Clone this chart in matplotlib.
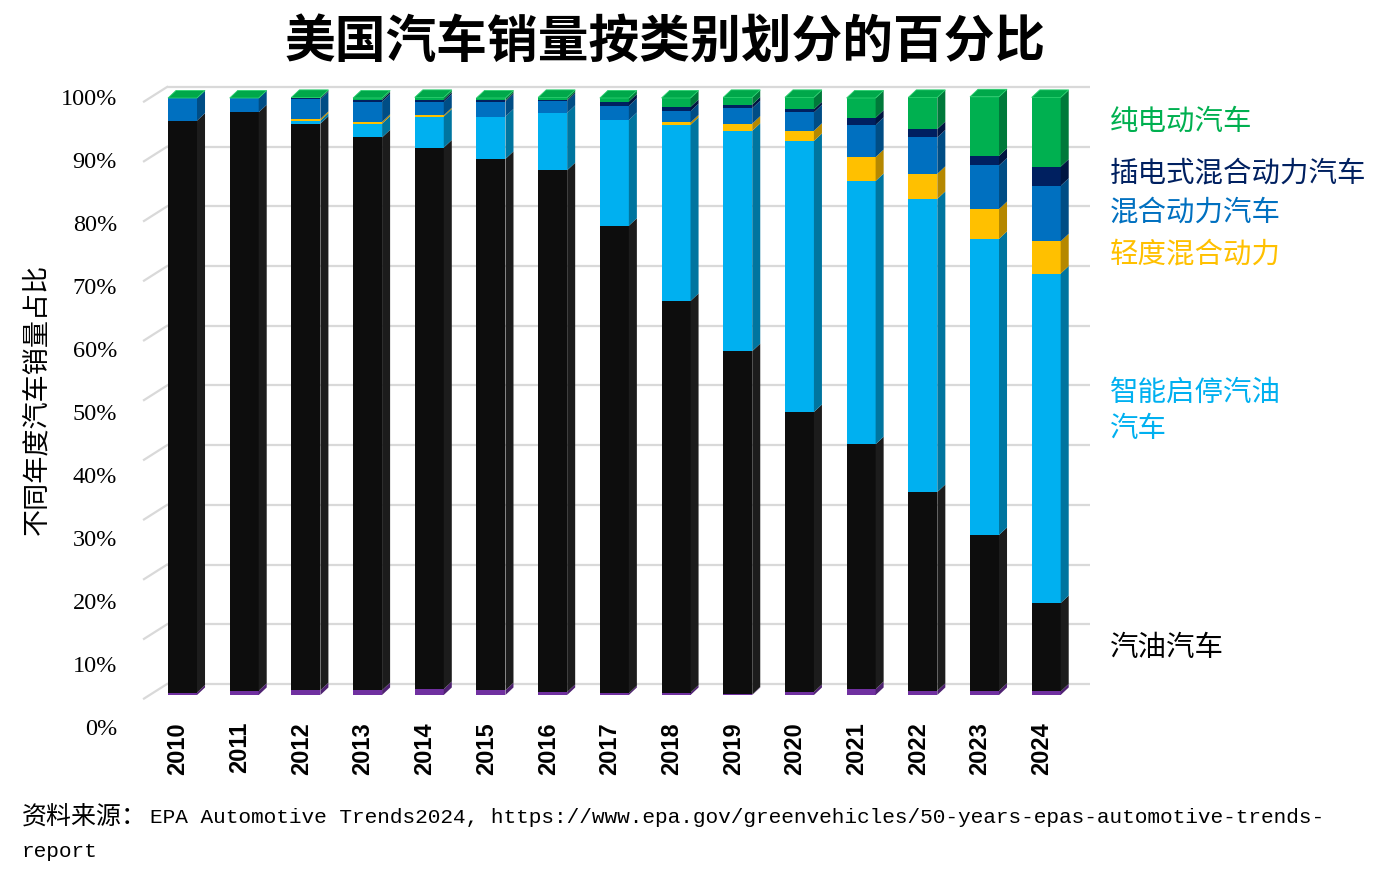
import matplotlib as mpl
mpl.use('Agg')
import matplotlib.pyplot as plt
import matplotlib.transforms as mtransforms
from matplotlib.patches import Polygon
import numpy as np

# 数据 (各年份销量占比 %, 从下往上堆叠)
years = ['2010', '2011', '2012', '2013', '2014', '2015', '2016', '2017',
         '2018', '2019', '2020', '2021', '2022', '2023', '2024']
diesel = [0.4, 0.7, 0.8, 0.8, 1.0, 0.8, 0.5, 0.3, 0.4, 0.1, 0.5, 1.0, 0.7, 0.7, 0.6]
gasoline = [95.8, 96.9, 94.9, 92.6, 90.7, 89.0, 87.4, 78.3, 65.6, 57.5, 46.9, 41.0, 33.3, 26.1, 14.8]
stop_start = [0.0, 0.0, 0.5, 2.3, 5.2, 7.1, 9.6, 17.7, 29.5, 36.9, 45.4, 44.1, 49.1, 49.6, 55.2]
mild_hybrid = [0.0, 0.0, 0.3, 0.3, 0.2, 0.0, 0.0, 0.0, 0.4, 1.2, 1.7, 4.0, 4.2, 5.0, 5.4]
hybrid = [3.8, 2.4, 3.3, 3.4, 2.3, 2.5, 2.0, 2.4, 1.9, 2.6, 3.1, 5.4, 6.1, 7.3, 9.3]
phev = [0.0, 0.0, 0.2, 0.3, 0.3, 0.2, 0.2, 0.7, 0.7, 0.6, 0.5, 1.2, 1.4, 1.6, 3.2]
bev = [0.0, 0.0, 0.1, 0.3, 0.4, 0.4, 0.4, 0.6, 1.5, 1.2, 2.0, 3.3, 5.3, 9.9, 11.6]

stack = [diesel, gasoline, stop_start, mild_hybrid, hybrid, phev, bev]
face_colors = ['#7030a0', '#0d0d0d', '#00b0f0', '#ffc000', '#0070c0', '#002060', '#00b050']
side_colors = ['#4f2272', '#1c1c1c', '#00759f', '#b58800', '#004d85', '#001541', '#00793a']
top_color = '#00a84a'

# 右侧图例文字
legend_labels = ['纯电动汽车', '插电式混合动力汽车', '混合动力汽车', '轻度混合动力', '智能启停汽油\n汽车', '汽油汽车']
legend_colors = ['#00b050', '#002060', '#0070c0', '#ffc000', '#00b0f0', '#000000']
legend_ypix = [122, 173, 212, 254, 411, 648]

W, H = 1373, 878
plt.rcParams['font.family'] = ['Noto Sans CJK SC', 'DejaVu Sans']

fig = plt.figure(figsize=(W / 100, H / 100), dpi=100)

# 坐标轴位置 (像素换算)
y_lo, y_hi = -5.3, 103
px_per_val = 5.97
ax_bottom = 696 - y_lo * px_per_val
ax_top = 696 - y_hi * px_per_val
ax = fig.add_axes([140 / W, (H - ax_bottom) / H, 950 / W, (ax_bottom - ax_top) / H])
ax.set_xlim(-0.689, 14.71)
ax.set_ylim(y_lo, y_hi)

x = np.arange(len(years))
bar_w = 0.47
dx, dy = 0.13, 1.26   # 立体效果的偏移

# 背景网格 (后墙 + 左侧斜线)
for v in np.arange(0, 101, 10):
    ax.plot([-0.25, 14.71], [v + 1.85, v + 1.85], color='#d9d9d9', lw=1.6, zorder=1,
            solid_capstyle='butt')
    ax.plot([-0.624, -0.25], [v - 0.6, v + 1.85], color='#d9d9d9', lw=1.6, zorder=1)

# 堆叠柱子 (正面 + 侧面)
bottom = np.zeros(len(years))
for vals, fc, sc in zip(stack, face_colors, side_colors):
    vals = np.array(vals)
    ax.bar(x, vals, bottom=bottom, width=bar_w, color=fc, linewidth=0, zorder=3)
    for i in range(len(x)):
        if vals[i] <= 0:
            continue
        xr = x[i] + bar_w / 2
        b = bottom[i]
        t = bottom[i] + vals[i]
        ax.add_patch(Polygon([(xr, b), (xr + dx, b + dy), (xr + dx, t + dy), (xr, t)],
                             closed=True, fc=sc, ec='none', zorder=3))
    bottom += vals

# 顶面
for i in range(len(x)):
    xl = x[i] - bar_w / 2
    xr = x[i] + bar_w / 2
    t = bottom[i]
    ax.add_patch(Polygon([(xl, t), (xr, t), (xr + dx, t + dy), (xl + dx, t + dy)],
                         closed=True, fc=top_color, ec='#2bd06f', lw=0.6, zorder=4))

# 坐标轴样式
for s in ax.spines.values():
    s.set_visible(False)
ax.set_yticks([])
ax.set_xticks(x)
ax.set_xticklabels(years, rotation=90, fontweight='bold', fontsize=17, family='Liberation Sans')
ax.tick_params(axis='x', length=0, pad=-4)
shift = mtransforms.ScaledTranslation(-4.5 / 100, 0, fig.dpi_scale_trans)
for lab in ax.get_xticklabels():
    lab.set_transform(lab.get_transform() + shift)

# y轴刻度文字
def to_label(v):
    return (5.97 * v + 31) / 6.3

def to_value(lab):
    return (6.3 * lab - 31) / 5.97

sec = ax.secondary_yaxis('left', functions=(to_label, to_value))
ticks = np.arange(0, 101, 10)
sec.set_yticks(ticks)
sec.set_yticklabels([f'{t}%' for t in ticks], family='Liberation Serif', fontsize=17.5)
sec.tick_params(length=0, pad=16.5)
sec.spines['left'].set_visible(False)

# 标题与标签
fig.text(665 / W, 1 - 42 / H, '美国汽车销量按类别划分的百分比', ha='center', va='center',
         fontsize=36.5, fontweight='bold')
fig.text(37 / W, 1 - 399 / H, '不同年度汽车销量占比', rotation=90, ha='center', va='center',
         fontsize=19.5)

for lab, col, yp in zip(legend_labels, legend_colors, legend_ypix):
    fig.text(1110 / W, 1 - yp / H, lab, color=col, ha='left', va='center',
             fontsize=20.5, linespacing=1.3)

# 资料来源
fig.text(22 / W, 1 - 818 / H, '资料来源：', ha='left', va='center', fontsize=18)
fig.text(150 / W, 1 - 818 / H,
         'EPA Automotive Trends2024, https://www.epa.gov/greenvehicles/50-years-epas-automotive-trends-',
         ha='left', va='center', fontsize=15.2, family='Liberation Mono')
fig.text(22 / W, 1 - 852 / H, 'report', ha='left', va='center', fontsize=15.2,
         family='Liberation Mono')

plt.savefig('out.png', dpi=100)
